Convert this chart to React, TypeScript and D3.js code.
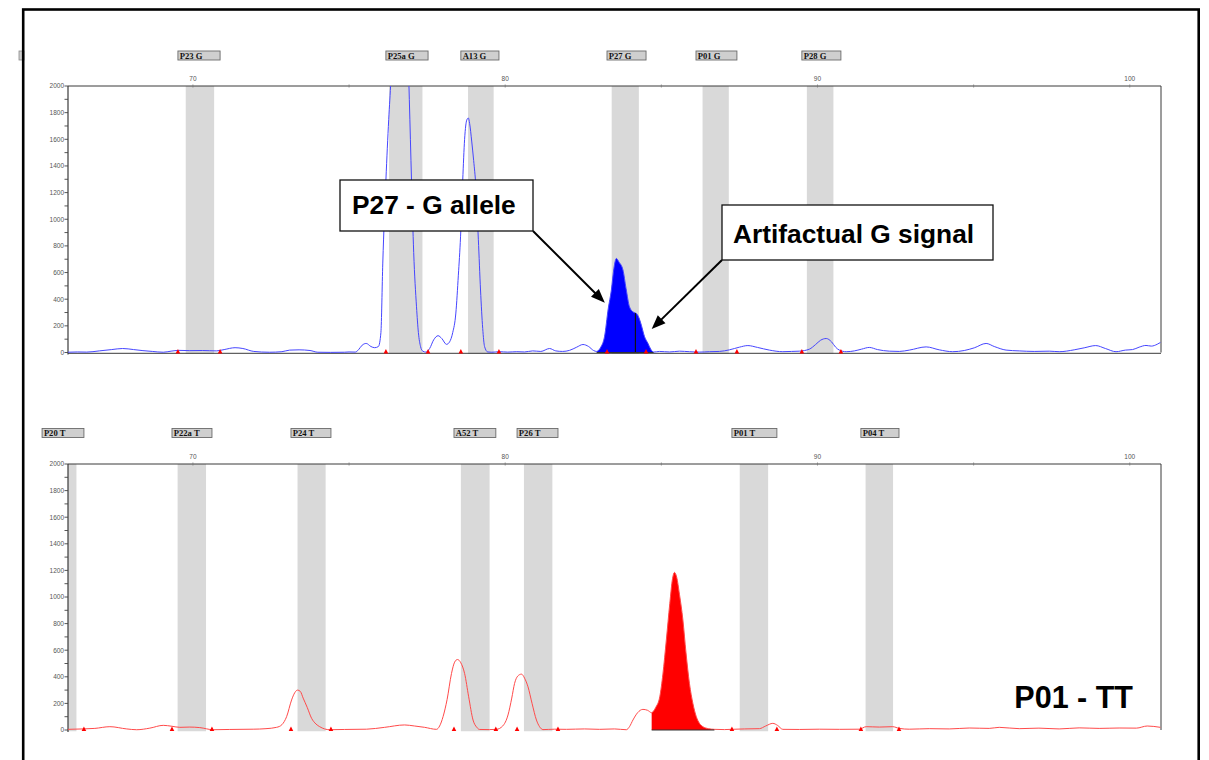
import React from "react";
import * as d3 from "d3";

const W = 1209;
const H = 760;

// Fragment size axis (bp) and signal axis (RFU)
const X_DOMAIN: [number, number] = [66, 101];
const X_TICKS = [70, 80, 90, 100];
const X_MINOR = [75, 85, 95];
const Y_MAX = 2000;
const Y_LABELS = d3.range(0, Y_MAX + 1, 200);
const Y_MINOR = d3.range(100, Y_MAX, 200);

type Bin = { name: string; from: number; to: number; tagFrom: number; tagTo: number };

// G-dye bins (blue channel)
const BINS_G: Bin[] = [
  { name: "P23 G", from: 69.77, to: 70.68, tagFrom: 69.52, tagTo: 70.87 },
  { name: "P25a G", from: 76.28, to: 77.35, tagFrom: 76.18, tagTo: 77.53 },
  { name: "A13 G", from: 78.81, to: 79.63, tagFrom: 78.58, tagTo: 79.8 },
  { name: "P27 G", from: 83.41, to: 84.28, tagFrom: 83.26, tagTo: 84.51 },
  { name: "P01 G", from: 86.32, to: 87.16, tagFrom: 86.11, tagTo: 87.42 },
  { name: "P28 G", from: 89.66, to: 90.51, tagFrom: 89.5, tagTo: 90.75 },
];

// T-dye bins (red channel)
const BINS_T: Bin[] = [
  { name: "P20 T", from: 65.5, to: 66.27, tagFrom: 65.17, tagTo: 66.51 },
  { name: "P22a T", from: 69.51, to: 70.42, tagFrom: 69.33, tagTo: 70.61 },
  { name: "P24 T", from: 73.35, to: 74.25, tagFrom: 73.14, tagTo: 74.42 },
  { name: "A52 T", from: 78.58, to: 79.5, tagFrom: 78.36, tagTo: 79.7 },
  { name: "P26 T", from: 80.6, to: 81.51, tagFrom: 80.38, tagTo: 81.69 },
  { name: "P01 T", from: 87.51, to: 88.42, tagFrom: 87.26, tagTo: 88.7 },
  { name: "P04 T", from: 91.54, to: 92.42, tagFrom: 91.39, tagTo: 92.61 },
];

// Blue electropherogram trace: [size bp, RFU]
const TRACE_G: [number, number][] = [
  [66.0, 2], [66.3, 4], [66.6, 3], [67.0, 12], [67.4, 22], [67.75, 30], [68.1, 22], [68.4, 14],
  [68.7, 8], [69.05, 2], [69.3, 10], [69.55, 16], [69.9, 14], [70.3, 15], [70.75, 12], [71.0, 22],
  [71.35, 36], [71.6, 30], [71.95, 8], [72.45, 2], [72.85, 6], [73.1, 18], [73.4, 20], [73.75, 15],
  [74.0, 2], [74.4, 1], [74.85, 2], [75.0, 4], [75.2, 3], [75.3, 20], [75.42, 55], [75.55, 68],
  [75.7, 45], [75.82, 36], [75.94, 45], [76.02, 150], [76.08, 671], [76.18, 1294], [76.27, 1750],
  [76.34, 2050], [76.46, 2900], [76.62, 3300], [76.78, 2900], [76.88, 2300], [76.93, 1900],
  [77.0, 1294], [77.07, 750], [77.16, 343], [77.22, 150], [77.29, 44], [77.36, 10], [77.46, 3],
  [77.58, 30], [77.71, 95], [77.85, 126], [77.97, 105], [78.12, 61], [78.22, 80], [78.32, 150],
  [78.42, 296], [78.5, 580], [78.57, 868], [78.64, 1294], [78.7, 1600], [78.77, 1745], [78.82, 1760],
  [78.86, 1720], [78.93, 1580], [78.99, 1440], [79.06, 1250], [79.14, 850], [79.21, 469], [79.28, 180],
  [79.34, 44], [79.44, 4], [79.57, 2], [79.82, 6], [80.08, 3], [80.37, 6], [80.62, 4], [80.88, 12],
  [81.14, 8], [81.42, 30], [81.62, 12], [81.84, 8], [82.06, 16], [82.29, 40], [82.49, 60], [82.67, 45],
  [82.83, 15], [82.93, 8], [83.06, 40], [83.18, 118], [83.3, 330], [83.4, 469], [83.48, 630],
  [83.56, 706], [83.64, 680], [83.77, 620], [83.87, 480], [83.98, 343], [84.09, 305],
  [84.17, 296], [84.23, 285], [84.3, 250], [84.36, 205], [84.46, 120], [84.57, 69], [84.66, 25],
  [84.75, 3], [84.94, 8], [85.26, 4], [85.58, 10], [85.9, 6], [86.22, 3], [86.54, 6], [86.86, 8],
  [87.18, 20], [87.5, 40], [87.77, 52], [88.08, 38], [88.46, 18], [88.89, 6], [89.17, 8], [89.42, 10],
  [89.74, 25], [89.94, 60], [90.1, 92], [90.28, 105], [90.45, 80], [90.58, 40], [90.7, 18], [90.92, 6],
  [91.18, 12], [91.41, 25], [91.66, 38], [91.92, 22], [92.3, 10], [92.62, 8], [92.94, 18], [93.48, 42],
  [93.9, 20], [94.33, 6], [94.7, 15], [95.02, 35], [95.4, 68], [95.66, 45], [96.04, 18], [96.46, 12],
  [96.94, 8], [97.42, 10], [97.74, 6], [98.22, 20], [98.54, 35], [98.91, 52], [99.22, 30], [99.56, 6],
  [99.86, 18], [100.09, 22], [100.3, 40], [100.52, 53], [100.69, 48], [100.88, 62], [100.98, 75],
];

// Red electropherogram trace: [size bp, RFU]
const TRACE_T: [number, number][] = [
  [66.0, 5], [66.48, 8], [66.86, 12], [67.34, 25], [67.88, 8], [68.2, 2], [68.62, 14], [69.05, 35],
  [69.33, 28], [69.58, 20], [69.9, 22], [70.22, 18], [70.65, 2], [71.18, 4], [71.93, 6], [72.34, 10],
  [72.68, 20], [72.85, 40], [73.0, 100], [73.16, 226], [73.26, 280], [73.35, 300], [73.44, 290],
  [73.53, 240], [73.66, 170], [73.8, 88], [73.94, 45], [74.06, 25], [74.38, 2], [74.86, 4], [75.56, 6],
  [76.14, 20], [76.78, 38], [77.1, 30], [77.42, 20], [77.8, 5], [77.9, 30], [78.01, 100], [78.14, 230],
  [78.28, 425], [78.38, 510], [78.47, 530], [78.58, 505], [78.7, 425], [78.83, 250], [78.97, 75],
  [79.09, 20], [79.18, 4], [79.5, 3], [79.72, 5], [79.92, 30], [80.09, 113], [80.21, 240], [80.3, 350],
  [80.4, 405], [80.52, 420], [80.62, 390], [80.73, 325], [80.86, 200], [81.0, 75], [81.1, 25],
  [81.21, 3], [81.58, 6], [81.96, 5], [82.54, 8], [83.02, 5], [83.5, 8], [83.88, 2], [83.98, 25],
  [84.09, 75], [84.24, 130], [84.41, 155], [84.56, 148], [84.69, 130], [84.82, 170], [84.95, 250],
  [85.05, 420], [85.16, 677], [85.27, 950], [85.36, 1140], [85.42, 1185], [85.49, 1150], [85.58, 1020],
  [85.69, 828], [85.79, 580], [85.9, 350], [86.01, 200], [86.12, 100], [86.22, 50], [86.33, 25],
  [86.51, 10], [86.7, 5], [87.02, 3], [87.24, 5], [87.66, 8], [88.14, 10], [88.34, 30], [88.57, 50],
  [88.72, 35], [88.89, 5], [89.42, 4], [90.06, 6], [90.7, 5], [91.34, 6], [91.56, 25], [91.98, 22],
  [92.41, 25], [92.62, 12], [92.94, 6], [93.58, 10], [94.22, 8], [94.86, 15], [95.5, 12], [95.82, 20],
  [96.46, 10], [97.09, 14], [97.74, 8], [98.38, 16], [99.02, 12], [99.66, 15], [100.21, 14],
  [100.56, 30], [100.98, 20],
];

// Called-peak ranges (filled areas)
const CALL_G: [number, number] = [82.93, 84.75];
const SPLIT_G = 84.17;
const CALL_T: [number, number] = [84.69, 86.7];

const xScale = d3.scaleLinear().domain(X_DOMAIN).range([68, 1161]);

type PanelSpec = {
  id: string;
  top: number;
  base: number;
  tagY: number;
  labelY: number;
  bins: Bin[];
  trace: [number, number][];
  stroke: string;
  fill: string;
  call: [number, number];
  split?: number;
  bottomLine: boolean;
};

const PANELS: PanelSpec[] = [
  { id: "g", top: 86, base: 352.5, tagY: 51, labelY: 81, bins: BINS_G, trace: TRACE_G, stroke: "#4646ff", fill: "#0000ff", call: CALL_G, split: SPLIT_G, bottomLine: true },
  { id: "t", top: 464, base: 730, tagY: 428.5, labelY: 459, bins: BINS_T, trace: TRACE_T, stroke: "#ff4a4a", fill: "#ff0000", call: CALL_T, bottomLine: false },
];

function valueAt(trace: [number, number][], x: number): number {
  const i = d3.bisector((d: [number, number]) => d[0]).left(trace, x);
  if (i <= 0) return trace[0][1];
  if (i >= trace.length) return trace[trace.length - 1][1];
  const [x0, y0] = trace[i - 1];
  const [x1, y1] = trace[i];
  return y0 + ((x - x0) / (x1 - x0)) * (y1 - y0);
}

const TICK_FONT = "'Liberation Sans', Arial, sans-serif";
const TAG_FONT = "'Liberation Serif', 'DejaVu Serif', serif";
const NOTE_FONT = "'Liberation Sans', Arial, Helvetica, sans-serif";

function Panel({ p }: { p: PanelSpec }) {
  const y = d3.scaleLinear().domain([0, Y_MAX]).range([p.base, p.top]);
  const [x0, x1] = xScale.range();
  const line = d3
    .line<[number, number]>()
    .x((d) => xScale(d[0]))
    .y((d) => y(d[1]))
    .curve(d3.curveMonotoneX);
  const area = d3
    .area<[number, number]>()
    .x((d) => xScale(d[0]))
    .y0(p.base)
    .y1((d) => y(d[1]))
    .curve(d3.curveMonotoneX);
  const called = p.trace.filter((d) => d[0] >= p.call[0] - 1e-9 && d[0] <= p.call[1] + 1e-9);
  const clipId = `clip-${p.id}`;
  const bandBottom = p.base + 1.5;
  const markers: number[] = [];
  p.bins.forEach((b) => {
    [b.tagFrom, b.tagTo].forEach((v) => {
      if (v >= X_DOMAIN[0] && v <= X_DOMAIN[1]) markers.push(v);
    });
  });

  return (
    <g>
      <defs>
        <clipPath id={clipId}>
          <rect x={x0} y={p.top} width={x1 - x0} height={bandBottom - p.top} />
        </clipPath>
      </defs>

      {/* bin bands */}
      <g clipPath={`url(#${clipId})`}>
        {p.bins.map((b) => (
          <rect
            key={b.name}
            x={xScale(b.from)}
            y={p.top}
            width={xScale(b.to) - xScale(b.from)}
            height={bandBottom - p.top}
            fill="#d9d9d9"
          />
        ))}
      </g>

      {/* bin name tags */}
      {p.bins.map((b) => {
        const bx = xScale(b.tagFrom);
        const bw = xScale(b.tagTo) - bx;
        return (
          <g key={`tag-${b.name}`}>
            <rect x={bx} y={p.tagY} width={bw} height={9} fill="#cfcfcf" stroke="#6a6a6a" strokeWidth={0.9} />
            <text x={bx + 1.8} y={p.tagY + 7.8} fontFamily={TAG_FONT} fontWeight="bold" fontSize={8.6} fill="#111">
              {b.name}
            </text>
          </g>
        );
      })}

      {/* axes frame */}
      <line x1={x0} x2={x1} y1={p.top} y2={p.top} stroke="#3a3a3a" strokeWidth={1} />
      <line x1={x1} x2={x1} y1={p.top} y2={p.base} stroke="#3a3a3a" strokeWidth={1} />
      <line x1={x0} x2={x0} y1={p.top} y2={p.base + 2} stroke="#3a3a3a" strokeWidth={1.2} />
      {p.bottomLine && <line x1={x0} x2={x1} y1={p.base + 0.8} y2={p.base + 0.8} stroke="#3a3a3a" strokeWidth={1} />}

      {/* size ticks */}
      {X_TICKS.map((t) => (
        <g key={`xt-${t}`}>
          <line x1={xScale(t)} x2={xScale(t)} y1={p.top - 1.5} y2={p.top + 1.5} stroke="#777" strokeWidth={0.8} />
          <text x={xScale(t)} y={p.labelY} textAnchor="middle" fontFamily={TICK_FONT} fontSize={6.5} fill="#555">
            {t}
          </text>
        </g>
      ))}
      {X_MINOR.map((t) => (
        <line key={`xm-${t}`} x1={xScale(t)} x2={xScale(t)} y1={p.top - 1.5} y2={p.top + 1.5} stroke="#777" strokeWidth={0.8} />
      ))}

      {/* signal ticks */}
      {Y_LABELS.map((v) => (
        <g key={`yl-${v}`}>
          <line x1={x0 - 3.5} x2={x0} y1={y(v)} y2={y(v)} stroke="#444" strokeWidth={0.9} />
          <text x={x0 - 4} y={y(v) + 2.3} textAnchor="end" fontFamily={TICK_FONT} fontSize={6.5} fill="#555">
            {v}
          </text>
        </g>
      ))}
      {Y_MINOR.map((v) => (
        <line key={`ym-${v}`} x1={x0 - 3.5} x2={x0} y1={y(v)} y2={y(v)} stroke="#444" strokeWidth={0.9} />
      ))}

      {/* trace and called peak */}
      <g clipPath={`url(#${clipId})`}>
        <path d={area(called) || ""} fill={p.fill} />
        <path d={line(p.trace) || ""} fill="none" stroke={p.stroke} strokeWidth={1} />
        {p.split !== undefined && (
          <line
            x1={xScale(p.split)}
            x2={xScale(p.split)}
            y1={p.base}
            y2={y(valueAt(p.trace, p.split))}
            stroke="#111"
            strokeWidth={1.2}
          />
        )}
      </g>
      <line x1={xScale(p.call[0])} x2={xScale(p.call[1])} y1={p.base} y2={p.base} stroke="#333" strokeWidth={1.2} />

      {/* peak-call markers */}
      {markers.map((m, i) => {
        const mx = xScale(m);
        return (
          <path key={`mk-${i}`} d={`M${mx - 2.3},${p.base + 1} L${mx + 2.3},${p.base + 1} L${mx},${p.base - 3.5} Z`} fill="#ff0000" />
        );
      })}
    </g>
  );
}

type Note = {
  text: string;
  tip: [number, number];
  box: { x: number; y: number; w: number; h: number };
  tail: "bottom-right" | "bottom-left";
  textX: number;
  textY: number;
};

const NOTES: Note[] = [
  { text: "P27 - G allele", tip: [83.19, 374], box: { x: 340, y: 180, w: 193, h: 51 }, tail: "bottom-right", textX: 352, textY: 214 },
  { text: "Artifactual G signal", tip: [84.69, 176], box: { x: 722, y: 205, w: 271, h: 55 }, tail: "bottom-left", textX: 733, textY: 243 },
];

function Callout({ n, y }: { n: Note; y: d3.ScaleLinear<number, number> }) {
  const tx = xScale(n.tip[0]);
  const ty = y(n.tip[1]);
  const sx = n.tail === "bottom-right" ? n.box.x + n.box.w : n.box.x;
  const sy = n.box.y + n.box.h;
  const dx = tx - sx;
  const dy = ty - sy;
  const len = Math.hypot(dx, dy);
  const ux = dx / len;
  const uy = dy / len;
  const L = 14;
  const hw = 5.5;
  const bx = tx - ux * L;
  const by = ty - uy * L;
  const head = `M${tx},${ty} L${bx - uy * hw},${by + ux * hw} L${bx + uy * hw},${by - ux * hw} Z`;
  return (
    <g>
      <line x1={sx} y1={sy} x2={bx + ux * 2} y2={by + uy * 2} stroke="#000" strokeWidth={2} />
      <path d={head} fill="#000" />
      <rect x={n.box.x} y={n.box.y} width={n.box.w} height={n.box.h} fill="#fff" stroke="#111" strokeWidth={1.3} />
      <text x={n.textX} y={n.textY} fontFamily={NOTE_FONT} fontWeight="bold" fontSize={26.3} fill="#000">
        {n.text}
      </text>
    </g>
  );
}

export default function App() {
  const topY = d3.scaleLinear().domain([0, Y_MAX]).range([PANELS[0].base, PANELS[0].top]);
  return (
    <svg
      width={W}
      height={H}
      viewBox={`0 0 ${W} ${H}`}
      style={{ position: "absolute", left: 0, top: 0, background: "#fff" }}
    >
      <rect x={0} y={0} width={W} height={H} fill="#fff" />
      <rect x={19} y={51} width={5} height={9} fill="#cfcfcf" stroke="#8a8a8a" strokeWidth={0.8} />
      {PANELS.map((p) => (
        <Panel key={p.id} p={p} />
      ))}
      {NOTES.map((n) => (
        <Callout key={n.text} n={n} y={topY} />
      ))}
      <text x={1133} y={708} textAnchor="end" fontFamily={NOTE_FONT} fontWeight="bold" fontSize={30.5} fill="#000">
        P01 - TT
      </text>
      <rect x={23.2} y={9.5} width={1175.5} height={820} fill="none" stroke="#000" strokeWidth={2.6} />
    </svg>
  );
}
